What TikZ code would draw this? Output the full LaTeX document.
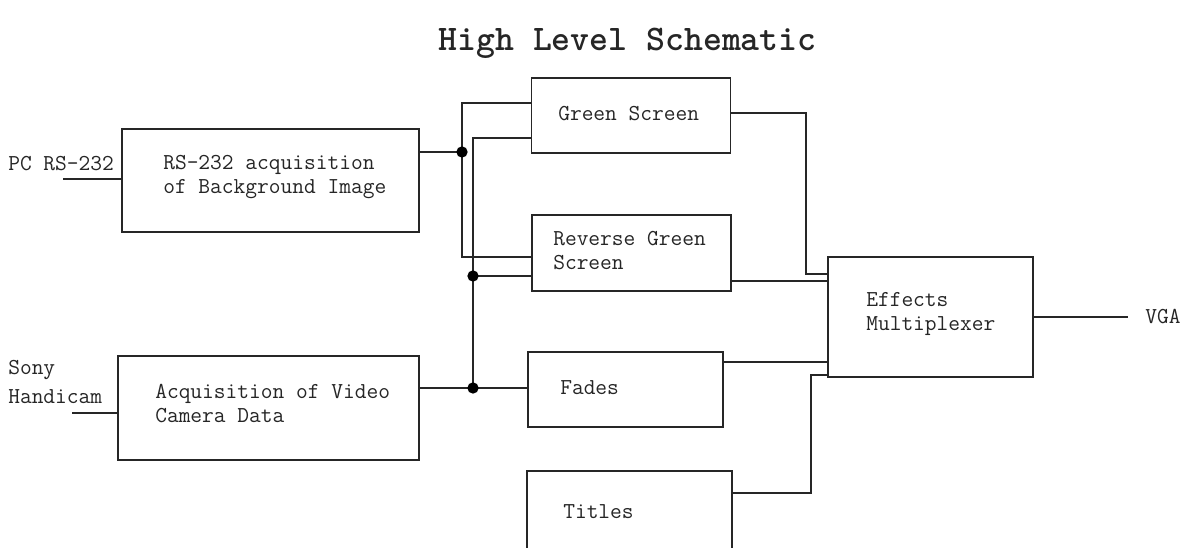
\documentclass[tikz,border=0pt]{standalone}
\usepackage{fontspec}
\begin{document}
\begin{tikzpicture}[x=0.75pt,y=-0.75pt,
  box/.style={draw=black!85,line width=1.3pt,inner sep=0pt,outer sep=0pt,rectangle},
  wire/.style={draw=black!85,line width=1.3pt},
  lbl/.style={inner sep=0pt,anchor=west,align=left,text=black!85,font=\ttfamily\fontsize{17.1pt}{18pt}\selectfont},
  junc/.style={circle,fill=black,inner sep=0pt,minimum size=8.5pt}]
\clip (0,0) rectangle (1186,548);
\fill[white] (0,0) rectangle (1186,548);
% title
\node[inner sep=0pt,text=black!85,font=\ttfamily\bfseries\fontsize{27pt}{30pt}\selectfont] (title) at (627.5,43) {High Level Schematic};
% boxes
\node[box,minimum width=222.75pt,minimum height=77.25pt] (rs) at (270.5,180.5) {};
\node[box,minimum width=225.75pt,minimum height=78pt] (acq) at (268.5,408) {};
\node[box,minimum width=149.25pt,minimum height=56.25pt] (gs) at (631,115.5) {};
\node[box,minimum width=149.25pt,minimum height=57pt] (rgs) at (631.5,253) {};
\node[box,minimum width=146.25pt,minimum height=56.25pt] (fades) at (625.5,389.5) {};
\node[box,minimum width=153.75pt,minimum height=67.5pt] (titles) at (629.5,516) {};
\node[box,minimum width=153.75pt,minimum height=90pt] (emux) at (930.5,317) {};
% labels
\node[lbl] (rsT) at (163,177) {RS-232 acquisition\\of Background Image};
\node[lbl] (acqT) at (155,404) {Acquisition of Video\\Camera Data};
\node[lbl] (gsT) at (558,114) {Green Screen};
\node[lbl] (rgsT) at (553,251) {Reverse Green\\Screen};
\node[lbl] (fadesT) at (560,388) {Fades};
\node[lbl] (titlesT) at (563,512) {Titles};
\node[lbl] (emuxT) at (866,314) {Effects\\Multiplexer};
\node[lbl] (pc) at (8,164) {PC RS-232};
\node[lbl,font=\ttfamily\fontsize{17.1pt}{21.75pt}\selectfont] (sony) at (8,382) {Sony\\Handicam};
\node[lbl] (vga) at (1145,317) {VGA};
% coordinates
\coordinate (pcEnd) at (63,179);
\coordinate (sonyEnd) at (72,413);
\coordinate (vgaEnd) at (1128,317);
\coordinate (j1) at (462,152);
\coordinate (j2) at (473,276);
\coordinate (j3) at (473,388);
\coordinate (a1) at (462,103);
\coordinate (a2) at (462,257);
\coordinate (b1) at (473,138);
\coordinate (m1) at (806,113);
\coordinate (m1b) at (806,274);
\coordinate (m4) at (811,493);
\coordinate (m4b) at (811,375);
% wires
\draw[wire] (pcEnd) -- (rs.west |- pcEnd);
\draw[wire] (sonyEnd) -- (acq.west |- sonyEnd);
\draw[wire] (rs.east |- j1) -- (j1);
\draw[wire] (gs.west |- a1) -- (a1) -- (a2) -- (rgs.west |- a2);
\draw[wire] (gs.west |- b1) -- (b1) -- (j3);
\draw[wire] (j2) -- (rgs.west |- j2);
\draw[wire] (acq.east |- j3) -- (fades.west |- j3);
\draw[wire] (gs.east |- m1) -- (m1) -- (m1b) -- (emux.west |- m1b);
\draw[wire] (rgs.east |- 0,281) -- (emux.west |- 0,281);
\draw[wire] (fades.east |- 0,362) -- (emux.west |- 0,362);
\draw[wire] (titles.east |- m4) -- (m4) -- (m4b) -- (emux.west |- m4b);
\draw[wire] (emux.east |- vgaEnd) -- (vgaEnd);
% junctions
\node[junc] (d1) at (j1) {};
\node[junc] (d2) at (j2) {};
\node[junc] (d3) at (j3) {};
\end{tikzpicture}
\end{document}
